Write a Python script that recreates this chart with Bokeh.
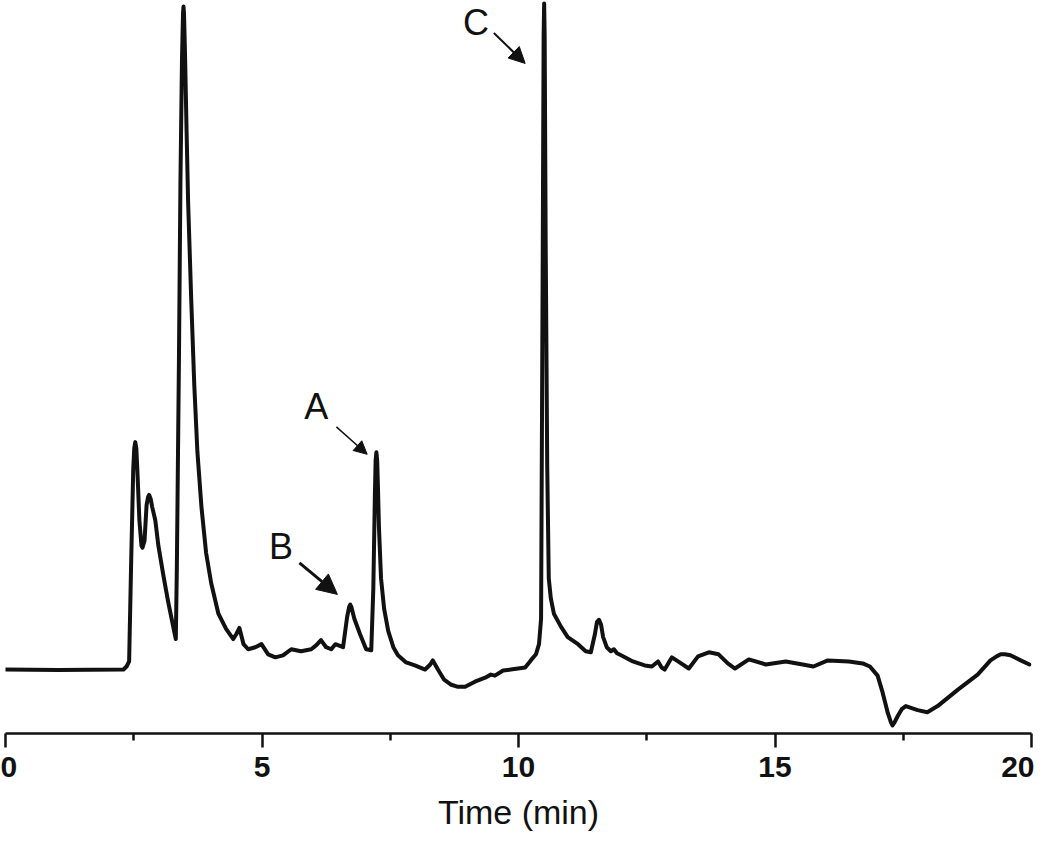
from bokeh.plotting import figure
from bokeh.models import Range1d, Arrow, NormalHead, ColumnDataSource, FixedTicker
from bokeh.core.properties import value
from bokeh.embed import file_html
from bokeh.resources import INLINE

# Chromatogram trace (time in min, detector response in arbitrary units)
time_min = [
    0.00, 1.03, 2.30, 2.36, 2.41, 2.45, 2.49, 2.51, 2.53, 2.55, 2.57, 2.61, 2.65, 2.67,
    2.71, 2.75, 2.78, 2.80, 2.83, 2.86, 2.92, 2.98, 3.08, 3.17, 3.23, 3.29, 3.32, 3.34,
    3.38, 3.41, 3.44, 3.46, 3.47, 3.48, 3.50, 3.53, 3.56, 3.62, 3.68, 3.74, 3.82, 3.91,
    4.01, 4.15, 4.30, 4.44, 4.50, 4.56, 4.64, 4.73, 4.87, 4.99, 5.12, 5.26, 5.41, 5.57,
    5.76, 5.96, 6.06, 6.15, 6.25, 6.35, 6.43, 6.48, 6.58, 6.66, 6.70, 6.72, 6.74, 6.80,
    6.91, 7.03, 7.13, 7.17, 7.20, 7.215, 7.23, 7.245, 7.26, 7.28, 7.32, 7.38, 7.46, 7.56,
    7.65, 7.81, 7.98, 8.18, 8.28, 8.33, 8.43, 8.55, 8.69, 8.82, 8.96, 9.15, 9.35, 9.46,
    9.54, 9.70, 9.85, 10.13, 10.24, 10.34, 10.40, 10.44, 10.47, 10.49, 10.50, 10.51,
    10.53, 10.56, 10.59, 10.63, 10.69, 10.83, 10.96, 11.16, 11.31, 11.41, 11.49, 11.53,
    11.57, 11.61, 11.65, 11.72, 11.80, 11.86, 11.92, 12.00, 12.23, 12.46, 12.60, 12.72,
    12.79, 12.85, 12.99, 13.11, 13.32, 13.50, 13.71, 13.90, 14.08, 14.22, 14.49, 14.82,
    15.21, 15.54, 15.75, 16.03, 16.44, 16.71, 16.85, 17.00, 17.10, 17.20, 17.26, 17.29,
    17.33, 17.39, 17.47, 17.55, 17.78, 17.97, 18.17, 18.56, 18.95, 19.20, 19.32, 19.40,
    19.48, 19.59, 19.79, 19.96,
]
response = [
    0.0, -0.05, 0.0, 0.3, 0.8, 10.7, 19.7, 21.8, 22.4, 21.8, 19.7, 14.7, 12.2, 12.0,
    12.7, 16.2, 17.0, 17.2, 16.8, 16.0, 14.7, 12.2, 9.2, 6.7, 5.2, 3.7, 3.0, 10.0,
    30.0, 48.0, 60.0, 64.6, 65.3, 64.6, 60.5, 53.0, 46.0, 36.5, 28.0, 21.5, 16.0, 11.5,
    8.5, 5.5, 4.0, 3.0, 3.5, 4.1, 2.5, 2.0, 2.2, 2.5, 1.5, 1.2, 1.4, 2.0,
    1.8, 2.0, 2.4, 2.9, 2.2, 2.0, 2.5, 2.4, 2.2, 5.2, 6.2, 6.4, 6.2, 5.0,
    3.5, 2.0, 1.9, 8.0, 17.0, 20.6, 21.4, 20.6, 18.0, 14.0, 9.0, 6.0, 3.8, 2.2,
    1.4, 0.7, 0.4, 0.0, 0.5, 0.9, 0.0, -1.0, -1.5, -1.7, -1.7, -1.2, -0.8, -0.5,
    -0.6, -0.1, 0.0, 0.2, 0.9, 1.5, 2.5, 5.0, 38.0, 62.5, 65.6, 62.5,
    42.0, 20.0, 9.0, 7.0, 5.5, 4.2, 3.2, 2.5, 1.8, 1.7, 3.5, 4.7,
    4.9, 4.4, 3.2, 2.2, 1.8, 2.0, 1.6, 1.4, 0.8, 0.4, 0.3, 0.8,
    0.2, 0.0, 1.2, 0.8, 0.1, 1.3, 1.7, 1.5, 0.6, 0.1, 1.0, 0.5,
    0.8, 0.5, 0.3, 0.9, 0.8, 0.6, 0.3, -0.6, -2.3, -4.3, -5.2, -5.5,
    -5.2, -4.6, -3.9, -3.6, -4.0, -4.2, -3.6, -2.0, -0.5, 0.9, 1.3, 1.5,
    1.5, 1.4, 0.9, 0.5,
]

# Peak annotations
peak_labels = ["C", "A", "B"]
label_t = [9.17, 6.06, 5.37]
label_v = [63.7, 25.9, 12.1]
arrow_t0 = [9.52, 6.45, 5.73]
arrow_v0 = [62.7, 23.9, 10.5]
arrow_t1 = [10.13, 7.05, 6.47]
arrow_v1 = [59.7, 21.2, 7.4]
arrow_width = [2, 1.5, 3]
arrow_head = [16, 13, 20]

x_ticks = [0, 5, 10, 15, 20]
minor_ticks = [2.5, 7.5, 12.5, 17.5]

p = figure(width=1034, height=833, output_backend="svg", toolbar_location=None,
           x_range=Range1d(0, 20), y_range=Range1d(-6.3, 65.9),
           y_axis_location=None, min_border_left=5, min_border_right=3,
           min_border_top=0, min_border_bottom=0, outline_line_color=None,
           background_fill_color="white", border_fill_color="white")
p.grid.visible = False

p.line(time_min, response, line_color="#111111", line_width=4,
       line_join="round", line_cap="round")

src = ColumnDataSource(dict(text=peak_labels, x=label_t, y=label_v))
p.text(x="x", y="y", text="text", source=src, text_align="center",
       text_baseline="middle", text_font=value("Liberation Sans"),
       text_font_size="36px", text_color="#111111")

for i in range(len(peak_labels)):
    p.add_layout(Arrow(end=NormalHead(size=arrow_head[i], fill_color="#111111",
                                      line_color="#111111", line_width=1),
                       x_start=arrow_t0[i], y_start=arrow_v0[i],
                       x_end=arrow_t1[i], y_end=arrow_v1[i],
                       line_width=arrow_width[i], line_color="#111111"))

ax = p.xaxis[0]
ax.ticker = FixedTicker(ticks=x_ticks, minor_ticks=minor_ticks)
ax.axis_line_width = 2.5
ax.axis_line_color = "#111111"
ax.major_tick_line_width = 2.5
ax.major_tick_line_color = "#111111"
ax.minor_tick_line_width = 2.5
ax.minor_tick_line_color = "#111111"
ax.major_tick_in = 0
ax.major_tick_out = 14
ax.minor_tick_in = 0
ax.minor_tick_out = 7
ax.major_label_text_font = "Liberation Sans"
ax.major_label_text_font_style = "bold"
ax.major_label_text_font_size = "30px"
ax.major_label_text_color = "#111111"
ax.major_label_standoff = 9
ax.axis_label = "Time (min)"
ax.axis_label_text_font = "Liberation Sans"
ax.axis_label_text_font_style = "normal"
ax.axis_label_text_font_size = "34px"
ax.axis_label_text_color = "#111111"
ax.axis_label_standoff = 13

open("out.html", "w").write(file_html(p, INLINE))
